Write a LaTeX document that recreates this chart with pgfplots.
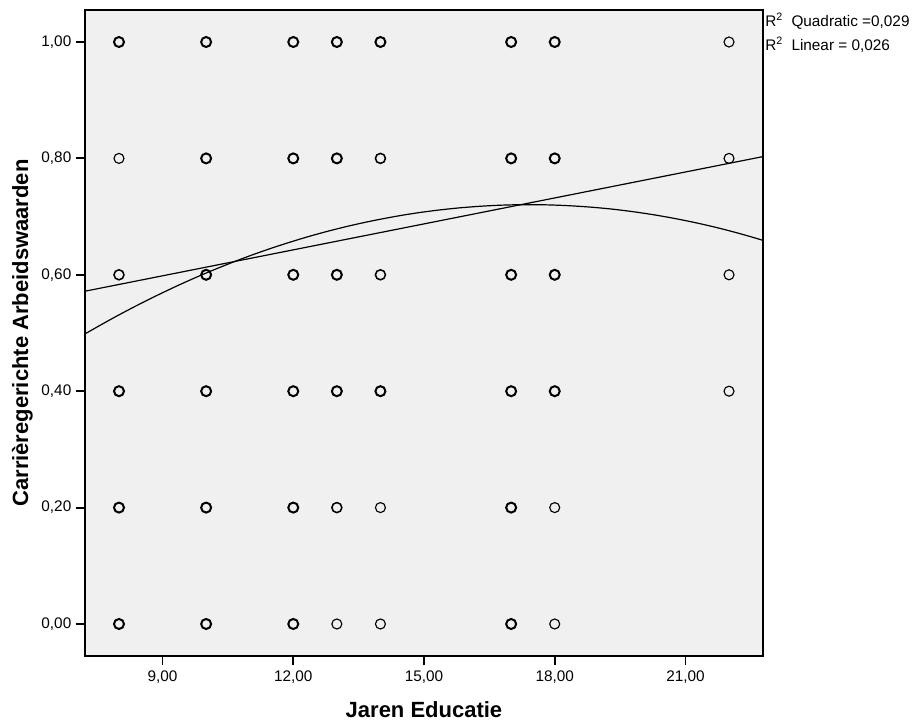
\documentclass[border=0pt]{standalone}
\usepackage{pgfplots}
\pgfplotsset{compat=1.18}
\usepackage{fontspec}
\setmainfont{Liberation Sans}
\definecolor{bgray}{HTML}{F0F0F0}
\begin{document}
\begin{tikzpicture}
\begin{axis}[
  scale only axis,
  width=508.5pt, height=484.5pt,
  xmin=7.22, xmax=22.78, ymin=-0.055, ymax=1.055,
  axis background/.style={fill=bgray},
  axis line style={black, line width=1.1pt},
  xtick={9,12,15,18,21},
  ytick={0,0.2,0.4,0.6,0.8,1},
  tick pos=left,
  tick align=outside,
  major tick length=6.75pt,
  tick style={black, line width=1.4pt},
  /pgf/number format/.cd, fixed, fixed zerofill, precision=2, use comma, assume math mode=true,
  /pgfplots/.cd,
  ticklabel style={font=\fontsize{11.5}{13}\selectfont},
  xticklabel style={yshift=-1pt},
  xlabel={Jaren Educatie},
  ylabel={Carrièregerichte Arbeidswaarden},
  xlabel style={font=\fontsize{16.5}{18}\bfseries, at={(axis description cs:0.5,0)}, anchor=base, yshift=-46.5pt},
  ylabel style={font=\fontsize{16.5}{18}\bfseries, at={(axis description cs:-0.0924,0.5)}, anchor=center},
  clip=false,
]
% points with many cases (bold circles)
\addplot[only marks, mark=o, mark size=3.75pt, mark options={line width=1.5pt, black}] table {
x y
8 1.0
8 0.4
8 0.2
8 0.0
10 1.0
10 0.8
10 0.6
10 0.4
10 0.2
10 0.0
12 1.0
12 0.8
12 0.6
12 0.4
12 0.2
12 0.0
13 1.0
13 0.8
13 0.6
13 0.4
14 1.0
14 0.4
17 1.0
17 0.8
17 0.6
17 0.4
17 0.2
17 0.0
18 1.0
18 0.8
18 0.6
18 0.4
};
% medium
\addplot[only marks, mark=o, mark size=3.75pt, mark options={line width=1.15pt, black}] table {
x y
8 0.6
13 0.2
14 0.8
14 0.6
};
% single cases (thin circles)
\addplot[only marks, mark=o, mark size=3.75pt, mark options={line width=0.85pt, black}] table {
x y
8 0.8
13 0.0
14 0.2
14 0.0
18 0.2
18 0.0
22 1.0
22 0.8
22 0.6
22 0.4
};
% linear fit
\addplot[black, line width=0.9pt] coordinates {(7.22,0.5718) (22.78,0.8031)};
% quadratic fit
\addplot[black, line width=0.9pt, smooth] coordinates {
(7.22,0.4985) (7.8,0.5230) (8.3,0.5430) (8.8,0.5619) (9.3,0.5798) (9.8,0.5966)
(10.3,0.6123) (10.8,0.6270) (11.3,0.6406) (11.8,0.6531) (12.3,0.6646) (12.8,0.6750)
(13.3,0.6843) (13.8,0.6925) (14.3,0.6997) (14.8,0.7059) (15.3,0.7109) (15.8,0.7149)
(16.3,0.7178) (16.8,0.7197) (17.3,0.7205) (17.8,0.7202) (18.3,0.7188) (18.8,0.7164)
(19.3,0.7130) (19.8,0.7084) (20.3,0.7028) (20.8,0.6961) (21.3,0.6884) (21.8,0.6796)
(22.3,0.6697) (22.78,0.6592)
};
\node[anchor=west, inner sep=0pt, xshift=1.5pt, yshift=-8.25pt, font=\fontsize{11.5}{13}\selectfont] at (rel axis cs:1,1) {R\textsuperscript{2}\ \ Quadratic =0,029};
\node[anchor=west, inner sep=0pt, xshift=1.5pt, yshift=-26.25pt, font=\fontsize{11.5}{13}\selectfont] at (rel axis cs:1,1) {R\textsuperscript{2}\ \ Linear = 0,026};
\coordinate (sw) at (rel axis cs:0,0);
\coordinate (ne) at (rel axis cs:1,1);
\end{axis}
\pgfresetboundingbox
\path[use as bounding box] ([shift={(-63.75pt,-53.25pt)}]sw) rectangle ([shift={(115.5pt,7.5pt)}]ne);
\end{tikzpicture}
\end{document}
